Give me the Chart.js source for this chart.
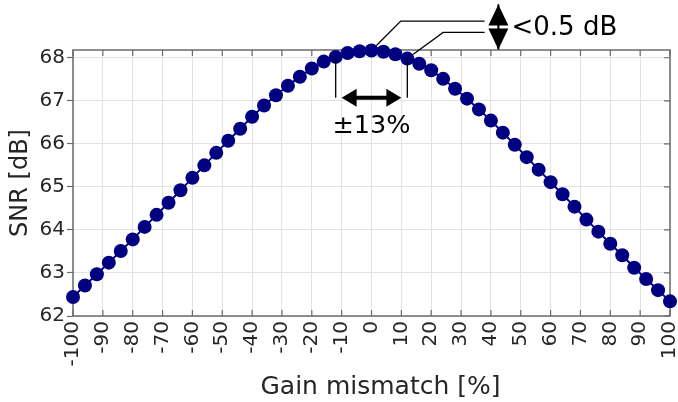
<!DOCTYPE html>
<html><head><meta charset="utf-8">
<script src="https://cdn.jsdelivr.net/npm/chart.js@4"></script>
<style>html,body{margin:0;padding:0;background:#fff}#wrap{width:678px;height:402px}</style>
</head><body><div id="wrap"><canvas id="c" width="678" height="402"></canvas></div>
<script>
// ---- data ----
const gainMismatch = [-100,-96,-92,-88,-84,-80,-76,-72,-68,-64,-60,-56,-52,-48,-44,-40,-36,-32,-28,-24,-20,-16,-12,-8,-4,0,4,8,12,16,20,24,28,32,36,40,44,48,52,56,60,64,68,72,76,80,84,88,92,96,100];
const snrValues = [62.44,62.71,62.97,63.24,63.51,63.78,64.07,64.35,64.63,64.92,65.21,65.50,65.79,66.07,66.35,66.63,66.89,67.13,67.35,67.56,67.75,67.91,68.02,68.11,68.15,68.17,68.14,68.08,67.98,67.86,67.71,67.51,67.28,67.05,66.80,66.54,66.26,65.98,65.69,65.40,65.11,64.83,64.54,64.24,63.96,63.68,63.41,63.12,62.86,62.60,62.34];
const xTickValues = [-100,-90,-80,-70,-60,-50,-40,-30,-20,-10,0,10,20,30,40,50,60,70,80,90,100];
const yTickValues = [62,63,64,65,66,67,68];
const xTitle = 'Gain mismatch [%]';
const yTitle = 'SNR [dB]';
// annotation anchors (in data units)
const spanEdges = [-12, 12];
const spanArrowEnds = [-10, 10];
const spanLevel = 67.07;
const spanText = '±13%';
const spanTextAt = [0, 66.40];
const leaderFrom = [0, 12];
const leaderBend = [[9.8, 68.85], [24.0, 68.59]];
const leaderEndX = 37.9;
const dbArrowX = 42.5;
const dbArrowEnds = [69.24, 68.19];
const dbText = '<0.5 dB';
const dbTextAt = [46.9, 68.69];

const FONT = "'DejaVu Sans', sans-serif";
const TXT = '#262626';
const FRAME = '#6b6b6b';

function idxOf(x){ return gainMismatch.indexOf(x); }

const annot = {
  id: 'annot',
  beforeDatasetsDraw(chart){
    const {ctx, chartArea:a, scales:{x, y}} = chart;
    ctx.save();
    ctx.strokeStyle = FRAME; ctx.lineWidth = 1.5;
    ctx.strokeRect(a.left, a.top, a.right - a.left, a.bottom - a.top);
    ctx.lineWidth = 1.2;
    ctx.beginPath();
    xTickValues.forEach(v => {
      const px = x.getPixelForValue(v);
      ctx.moveTo(px, a.bottom); ctx.lineTo(px, a.bottom - 6);
      ctx.moveTo(px, a.top); ctx.lineTo(px, a.top + 6);
    });
    yTickValues.forEach(v => {
      const py = y.getPixelForValue(v);
      ctx.moveTo(a.right, py); ctx.lineTo(a.right - 6, py);
    });
    ctx.stroke();
    ctx.restore();
  },
  afterDraw(chart){
    const {ctx, chartArea:a, scales:{x, y}} = chart;
    ctx.save();
    // x axis title
    ctx.fillStyle = TXT;
    ctx.font = '25px ' + FONT; ctx.textAlign = 'center'; ctx.textBaseline = 'middle';
    ctx.fillText(xTitle, (a.left + a.right) / 2 + 9, chart.height - 15);
    ctx.strokeStyle = '#000'; ctx.fillStyle = '#000';
    // span edge lines
    ctx.lineWidth = 1.3;
    ctx.beginPath();
    spanEdges.forEach(v => {
      const px = x.getPixelForValue(v);
      ctx.moveTo(px, y.getPixelForValue(snrValues[idxOf(v)]));
      ctx.lineTo(px, y.getPixelForValue(spanLevel));
    });
    ctx.stroke();
    // horizontal double arrow
    const ay = y.getPixelForValue(spanLevel);
    const ax1 = x.getPixelForValue(spanArrowEnds[0]), ax2 = x.getPixelForValue(spanArrowEnds[1]);
    ctx.lineWidth = 4;
    ctx.beginPath(); ctx.moveTo(ax1 + 8, ay); ctx.lineTo(ax2 - 8, ay); ctx.stroke();
    ctx.beginPath(); ctx.moveTo(ax1, ay); ctx.lineTo(ax1 + 15, ay - 9); ctx.lineTo(ax1 + 15, ay + 9); ctx.closePath(); ctx.fill();
    ctx.beginPath(); ctx.moveTo(ax2, ay); ctx.lineTo(ax2 - 15, ay - 9); ctx.lineTo(ax2 - 15, ay + 9); ctx.closePath(); ctx.fill();
    // span text
    ctx.font = '25.5px ' + FONT; ctx.textAlign = 'center'; ctx.textBaseline = 'middle';
    ctx.fillText(spanText, x.getPixelForValue(spanTextAt[0]), y.getPixelForValue(spanTextAt[1]));
    // leader lines
    ctx.lineWidth = 1.3;
    leaderFrom.forEach((v, i) => {
      const px = x.getPixelForValue(v), py = y.getPixelForValue(snrValues[idxOf(v)]);
      const bx = x.getPixelForValue(leaderBend[i][0]), by = y.getPixelForValue(leaderBend[i][1]);
      const d = Math.hypot(bx - px, by - py);
      const sx = px + (bx - px) / d * 7, sy = py + (by - py) / d * 7;
      ctx.beginPath(); ctx.moveTo(sx, sy); ctx.lineTo(bx, by); ctx.lineTo(x.getPixelForValue(leaderEndX), by); ctx.stroke();
    });
    // vertical double arrow
    const vx = x.getPixelForValue(dbArrowX);
    const vt = y.getPixelForValue(dbArrowEnds[0]), vb = y.getPixelForValue(dbArrowEnds[1]);
    const mid = (vt + vb) / 2;
    ctx.lineWidth = 2;
    ctx.beginPath(); ctx.moveTo(vx, vt); ctx.lineTo(vx, vb); ctx.stroke();
    ctx.beginPath(); ctx.moveTo(vx, vt); ctx.lineTo(vx + 10, mid - 1.5); ctx.lineTo(vx - 10, mid - 1.5); ctx.closePath(); ctx.fill();
    ctx.beginPath(); ctx.moveTo(vx, vb); ctx.lineTo(vx + 10, mid + 1.5); ctx.lineTo(vx - 10, mid + 1.5); ctx.closePath(); ctx.fill();
    // db text
    ctx.font = '26px ' + FONT; ctx.textAlign = 'left'; ctx.textBaseline = 'middle';
    ctx.fillText(dbText, x.getPixelForValue(dbTextAt[0]), y.getPixelForValue(dbTextAt[1]));
    ctx.restore();
  }
};

new Chart(document.getElementById('c'), {
  type: 'line',
  data: {
    datasets: [{
      data: gainMismatch.map((g, i) => ({x: g, y: snrValues[i]})),
      borderColor: '#000080', backgroundColor: '#000080',
      borderWidth: 2, pointRadius: 7, pointBorderWidth: 0,
      pointBackgroundColor: '#000080', tension: 0, clip: false
    }]
  },
  options: {
    responsive: false, animation: false, devicePixelRatio: 1,
    layout: {padding: {top: 50, right: 8, left: 0, bottom: 0}},
    plugins: {legend: {display: false}, tooltip: {enabled: false}},
    scales: {
      x: {
        type: 'linear', min: -100, max: 100,
        afterBuildTicks: s => { s.ticks = xTickValues.map(v => ({value: v})); },
        afterFit: s => { s.height = 86; s.paddingLeft = 0; s.paddingRight = 0; },
        ticks: {autoSkip: false, minRotation: 90, maxRotation: 90, padding: 5,
          font: {family: FONT, size: 20}, color: TXT, callback: v => String(v)},
        grid: {color: '#e2e2e2', lineWidth: 1, drawTicks: false},
        border: {display: false},
        title: {display: false}
      },
      y: {
        type: 'linear', min: 62, max: 68.18,
        afterBuildTicks: s => { s.ticks = yTickValues.map(v => ({value: v})); },
        afterFit: s => { s.width = 73; s.paddingTop = 0; s.paddingBottom = 0; },
        ticks: {padding: 2, font: {family: FONT, size: 20}, color: TXT, callback: v => String(v)},
        grid: {color: '#e2e2e2', lineWidth: 1, drawTicks: true, tickLength: 6, tickColor: FRAME, tickWidth: 1.2},
        border: {display: false},
        title: {display: true, text: yTitle, font: {family: FONT, size: 24}, color: TXT, padding: {top: 6, bottom: 0}}
      }
    }
  },
  plugins: [annot]
});
</script>
</body></html>
